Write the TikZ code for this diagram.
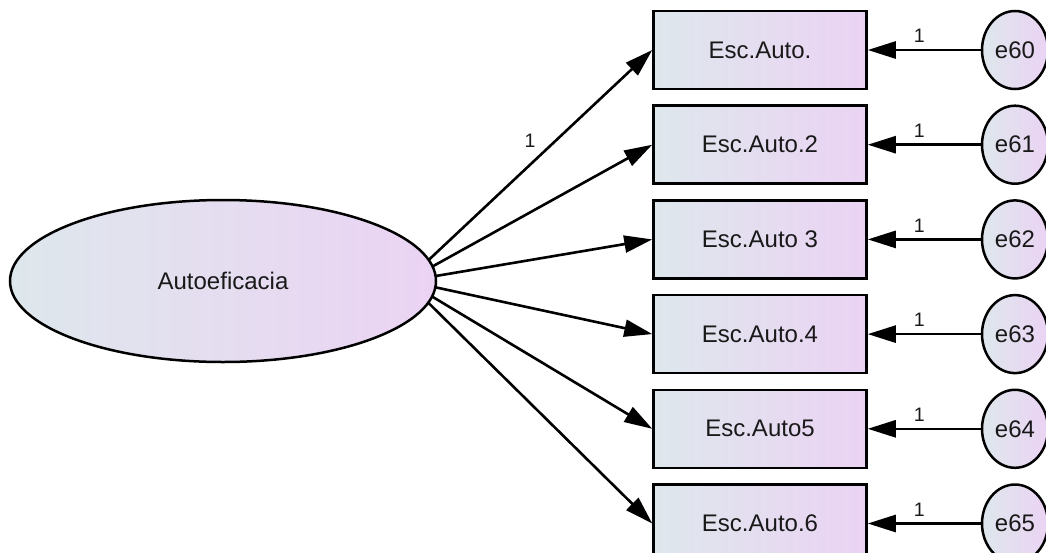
\documentclass[tikz,border=0pt]{standalone}
\usepackage{fontspec}
\setmainfont{Liberation Sans}
\usepackage{tikz}
\definecolor{shleft}{RGB}{222,231,236}
\definecolor{shright}{RGB}{235,211,244}
\tikzset{
    latent/.style={draw, ellipse, line width=2.5pt, left color=shleft, right color=shright,
        minimum width=426pt, minimum height=162pt, font=\fontsize{24}{28}\selectfont},
    observed/.style={draw, rectangle, line width=2.5pt, left color=shleft, right color=shright,
        minimum width=213pt, minimum height=78pt, font=\fontsize{24}{28}\selectfont},
    errvar/.style={draw, ellipse, line width=2.5pt, left color=shleft, right color=shright,
        minimum width=66pt, minimum height=78pt, inner sep=0pt, font=\fontsize{24}{28}\selectfont},
    loading/.style = {-{Triangle[length=28pt, width=17pt]}, line width=2.6pt},
    weight/.style = {font=\fontsize{19.5}{22}\selectfont, inner sep=2pt} }
\usetikzlibrary{positioning, shapes.geometric, arrows.meta, backgrounds}

\begin{document}
\begin{tikzpicture}[node distance=14.2pt, text=black!90]
      \useasboundingbox (0,0) rectangle (1046pt,-552pt);
      \node[latent] (AE) at (223pt,-281pt) {Autoeficacia};
      \coordinate[left=31pt of AE.east] (hub);
      % ----
      \node[observed] (x1) at (760pt,-50pt) {Esc.Auto.};
      \node[observed, below = of x1] (x2) {Esc.Auto.2};
      \node[observed, below = of x2] (x3) {Esc.Auto 3};
      \node[observed, below = of x3] (x4) {Esc.Auto.4};
      \node[observed, below = of x4] (x5) {Esc.Auto5};
      \node[observed, below = of x5] (x6) {Esc.Auto.6};
      % ----
      \node[errvar, right = 113pt of x1] (e60) {e60};
      \node[errvar, right = 113pt of x2] (e61) {e61};
      \node[errvar, right = 113pt of x3] (e62) {e62};
      \node[errvar, right = 113pt of x4] (e63) {e63};
      \node[errvar, right = 113pt of x5] (e64) {e64};
      \node[errvar, right = 113pt of x6] (e65) {e65};
      % ----
      \begin{scope}[on background layer]
          \draw[loading] (hub) -- node[weight, pos=0.55, above left=4pt] {1} (x1.west);
          \draw[loading] (hub) -- (x2.west);
          \draw[loading] (hub) -- (x3.west);
          \draw[loading] (hub) -- (x4.west);
          \draw[loading] (hub) -- (x5.west);
          \draw[loading] (hub) -- (x6.west);
      \end{scope}
      % ----
      \draw[loading] (e60) -- node[weight, above=4pt, xshift=-5pt] {1} (x1);
      \draw[loading] (e61) -- node[weight, above=4pt, xshift=-5pt] {1} (x2);
      \draw[loading] (e62) -- node[weight, above=4pt, xshift=-5pt] {1} (x3);
      \draw[loading] (e63) -- node[weight, above=4pt, xshift=-5pt] {1} (x4);
      \draw[loading] (e64) -- node[weight, above=4pt, xshift=-5pt] {1} (x5);
      \draw[loading] (e65) -- node[weight, above=4pt, xshift=-5pt] {1} (x6);
\end{tikzpicture}
\end{document}
